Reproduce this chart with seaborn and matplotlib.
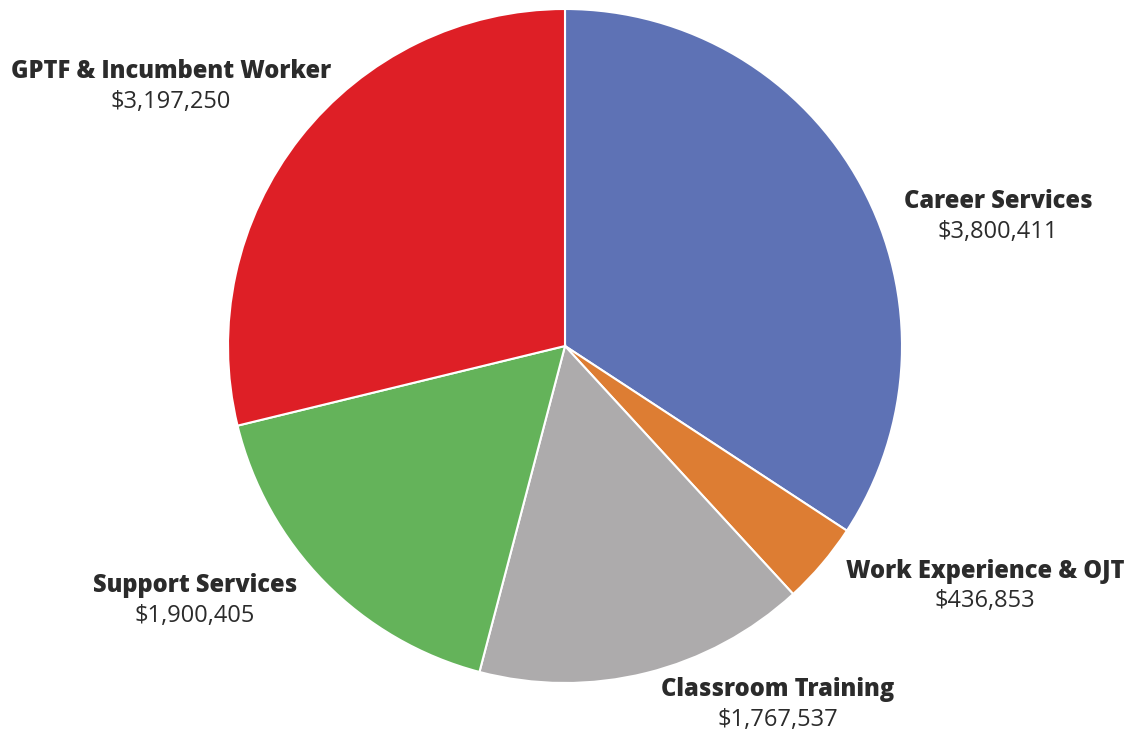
import matplotlib
matplotlib.use("Agg")
import matplotlib.pyplot as plt
import seaborn as sns

categories = ["Career Services", "Work Experience & OJT", "Classroom Training",
              "Support Services", "GPTF & Incumbent Worker"]
amounts = [3800411, 436853, 1767537, 1900405, 3197250]
colors = ["#5E72B5", "#DD7D33", "#ADABAC", "#64B35A", "#DE1F26"]

# label anchor positions in pixels (x, y from top)
label_pos = [(998, 202), (985, 571), (778, 690), (195, 586), (171, 72)]

sns.set_theme(style="white")
plt.rcParams["font.family"] = ["Open Sans", "DejaVu Sans"]

fig = plt.figure(figsize=(11.31, 7.34), dpi=100)
ax = fig.add_axes([0, 0, 1, 1])

ax.pie(amounts, colors=colors, startangle=90, counterclock=False,
       center=(565, 734 - 346), radius=337,
       wedgeprops=dict(edgecolor="white", linewidth=1.5))

ax.set_xlim(0, 1131)
ax.set_ylim(0, 734)
ax.set_aspect("equal")
ax.axis("off")

for name, amt, (x, y) in zip(categories, amounts, label_pos):
    ax.text(x, 734 - y, name, ha="center", va="center", fontsize=17,
            fontweight="heavy", color="#2b2b2b")
    ax.text(x, 734 - y - 30, f"${amt:,}", ha="center", va="center",
            fontsize=17, color="#2b2b2b")

fig.savefig("out.png", dpi=100, facecolor="white")
